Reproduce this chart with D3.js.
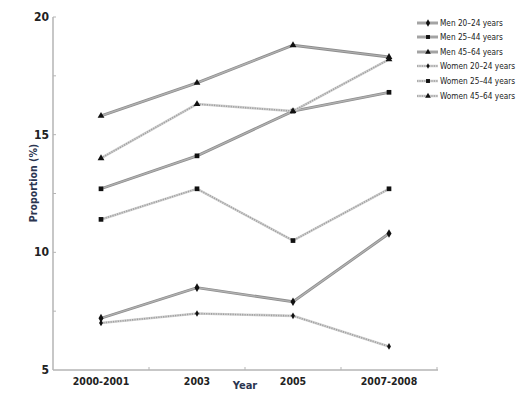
<!DOCTYPE html>
<html>
<head>
<meta charset="utf-8">
<script src="https://cdn.jsdelivr.net/npm/d3@7"></script>
<style>
  body { margin: 0; background: #fff; }
  svg { display: block; font-family: "Liberation Sans Narrow", "DejaVu Sans Condensed", "Roboto Condensed", sans-serif; }
</style>
</head>
<body>
<div id="chart"></div>
<script>
// Survey periods on the x axis
const years = ["2000-2001", "2003", "2005", "2007-2008"];

// One array per group, proportion (%)
const men2024 = [7.2, 8.5, 7.9, 10.8];
const men2544 = [12.7, 14.1, 16.0, 16.8];
const men4564 = [15.8, 17.2, 18.8, 18.3];
const women2024 = [7.0, 7.4, 7.3, 6.0];
const women2544 = [11.4, 12.7, 10.5, 12.7];
const women4564 = [14.0, 16.3, 16.0, 18.2];

const yTicks = [5, 10, 15, 20];

const series = [
    { name: "Men 20\u201324 years", values: men2024, sym: d3.symbolDiamond, size: 22, women: false },
    { name: "Men 25\u201344 years", values: men2544, sym: d3.symbolSquare, size: 22, women: false },
    { name: "Men 45\u201364 years", values: men4564, sym: d3.symbolTriangle, size: 20, women: false },
    { name: "Women 20\u201324 years", values: women2024, sym: d3.symbolDiamond, size: 13, women: true },
    { name: "Women 25\u201344 years", values: women2544, sym: d3.symbolSquare, size: 22, women: true },
    { name: "Women 45\u201364 years", values: women4564, sym: d3.symbolTriangle, size: 20, women: true }
];

const width = 525, height = 399;
const svg = d3.select("#chart").append("svg")
    .attr("width", width)
    .attr("height", height);

const x = d3.scalePoint().domain(years).range([101, 389]);
const y = d3.scaleLinear().domain([5, 20]).range([370, 17]);

// axes lines
const axisColor = "#b5b5b5";
svg.append("line").attr("x1", 53).attr("x2", 53).attr("y1", y(20)).attr("y2", y(5))
    .attr("stroke", axisColor).attr("stroke-width", 1.5);
svg.append("line").attr("x1", 53).attr("x2", 438).attr("y1", y(5)).attr("y2", y(5))
    .attr("stroke", axisColor).attr("stroke-width", 1.5);

// minor y ticks
[7.5, 12.5, 17.5, 20, 15, 10].forEach(v => {
    svg.append("line").attr("x1", 53).attr("x2", 56).attr("y1", y(v)).attr("y2", y(v))
        .attr("stroke", axisColor);
});
// minor x ticks between categories
const step = x.step();
years.forEach(yr => {
    const px = x(yr) + step / 2;
    svg.append("line").attr("x1", px).attr("x2", px).attr("y1", y(5)).attr("y2", y(5) - 3)
        .attr("stroke", axisColor);
});

// y tick labels
svg.selectAll(".ytl").data(yTicks).enter().append("text")
    .attr("x", 49).attr("y", d => y(d) + 4)
    .attr("text-anchor", "end")
    .attr("font-size", 12).attr("font-weight", "bold").attr("fill", "#222")
    .text(d => d);

// x tick labels
svg.selectAll(".xtl").data(years).enter().append("text")
    .attr("x", d => x(d)).attr("y", 385)
    .attr("text-anchor", "middle")
    .attr("font-size", 10.5).attr("font-weight", "bold").attr("fill", "#222")
    .text(d => d);

// axis titles
svg.append("text").attr("x", 245).attr("y", 389).attr("text-anchor", "middle")
    .attr("font-size", 11).attr("font-weight", "bold").attr("fill", "#2b3550").text("Year");
svg.append("text").attr("transform", "translate(37,183) rotate(-90)")
    .attr("text-anchor", "middle")
    .attr("font-size", 10.5).attr("font-weight", "bold").attr("fill", "#2b3550").text("Proportion (%)");

const line = d3.line().x((d, i) => x(years[i])).y(d => y(d));

function drawLine(g, pathD, women) {
    if (women) {
        g.append("path").attr("d", pathD).attr("fill", "none")
            .attr("stroke", "#d2d2d2").attr("stroke-width", 2.6);
        g.append("path").attr("d", pathD).attr("fill", "none")
            .attr("stroke", "#a0a0a0").attr("stroke-width", 1.6).attr("stroke-dasharray", "1.2,1.2");
    } else {
        g.append("path").attr("d", pathD).attr("fill", "none")
            .attr("stroke", "#8e8e8e").attr("stroke-width", 2.8);
        g.append("path").attr("d", pathD).attr("fill", "none")
            .attr("stroke", "#b3b3b3").attr("stroke-width", 1.2);
    }
}

series.forEach(s => {
    const g = svg.append("g");
    drawLine(g, line(s.values), s.women);
    g.selectAll("path.m").data(s.values).enter().append("path")
        .attr("class", "m")
        .attr("transform", (d, i) => `translate(${x(years[i])},${y(d)})`)
        .attr("d", d3.symbol().type(s.sym).size(s.size))
        .attr("fill", "#111");
});

// legend
const legY = [23, 37, 52, 66, 81, 96];
series.forEach((s, i) => {
    const g = svg.append("g").attr("transform", `translate(0,${legY[i]})`);
    drawLine(g, "M417,0L438,0", s.women);
    g.append("path").attr("transform", "translate(428,0)")
        .attr("d", d3.symbol().type(s.sym).size(s.size * 0.7))
        .attr("fill", "#111");
    g.append("text").attr("x", 440).attr("y", 3)
        .attr("font-size", 8.2).attr("fill", "#222")
        .text(s.name);
});
</script>
</body>
</html>
